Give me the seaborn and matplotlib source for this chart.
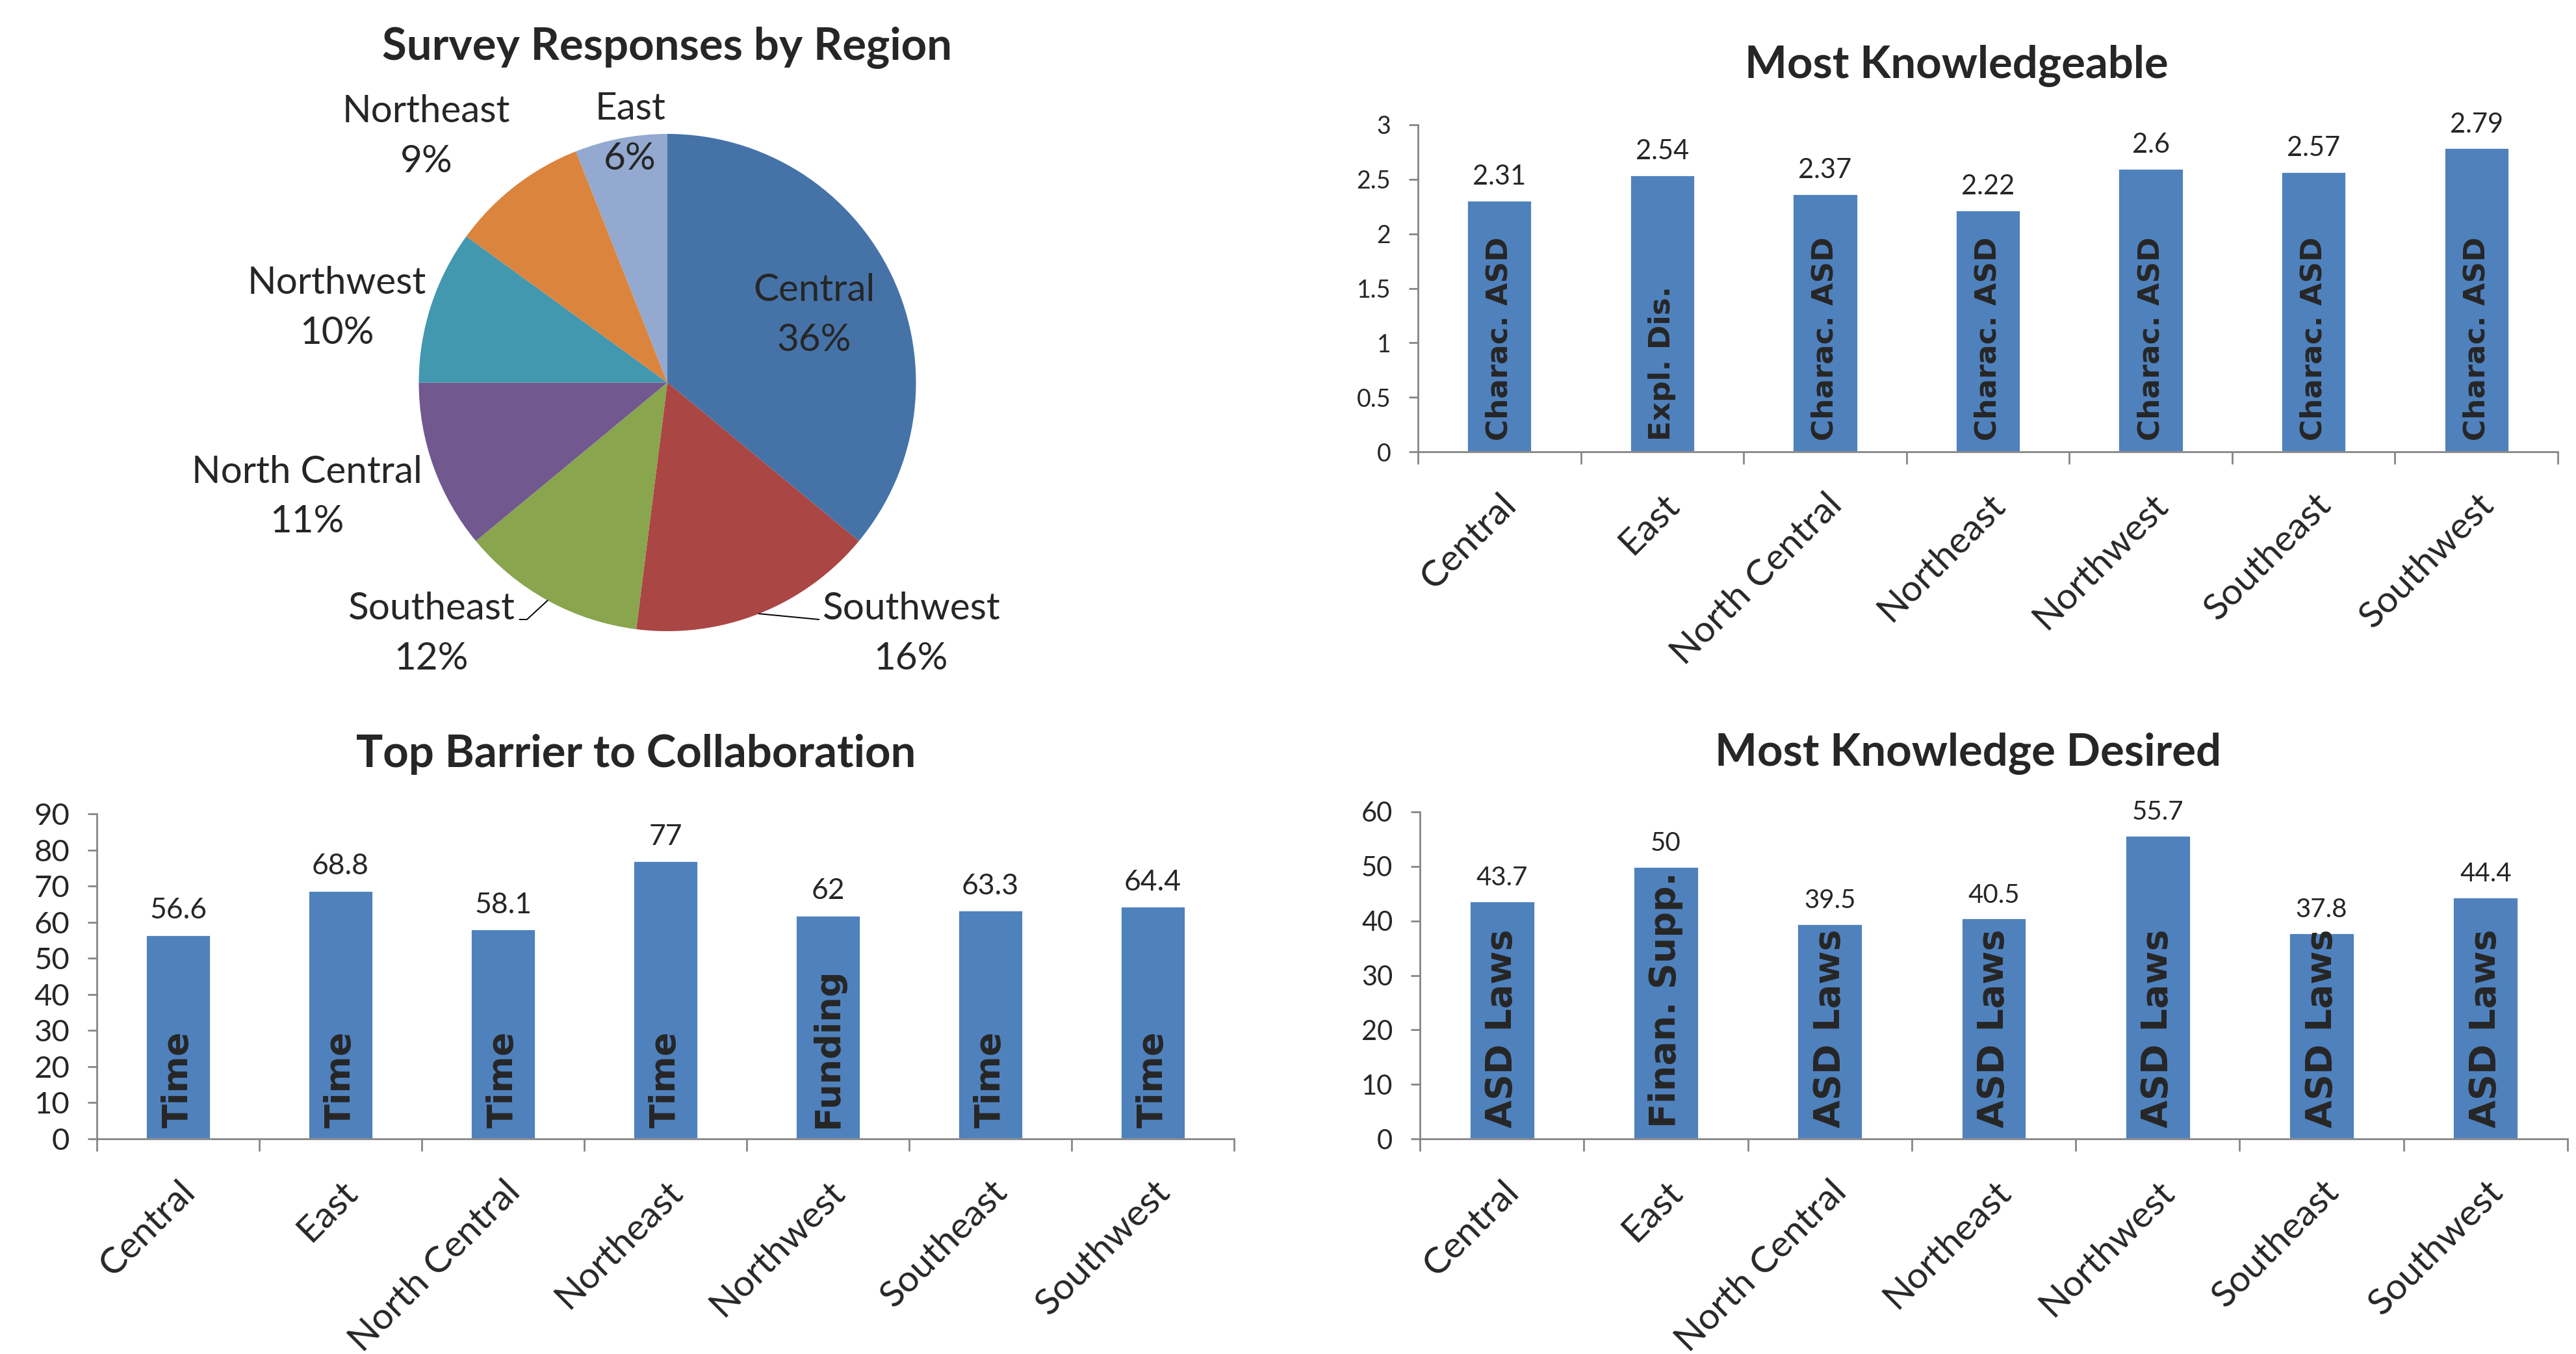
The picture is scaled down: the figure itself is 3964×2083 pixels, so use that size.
import numpy as np
import matplotlib
matplotlib.use("Agg")
import matplotlib.pyplot as plt
from matplotlib.ticker import StrMethodFormatter
from matplotlib.transforms import ScaledTranslation
import seaborn as sns

# ── data ─────────────────────────────────────────────────────────────────────
regions = ["Central", "East", "North Central", "Northeast",
           "Northwest", "Southeast", "Southwest"]

pie_regions = ["Central", "Southwest", "Southeast", "North Central",
               "Northwest", "Northeast", "East"]
pie_share = [36, 16, 12, 11, 10, 9, 6]
pie_colors = ["#4573A8", "#AA4644", "#89A54E", "#71588F",
              "#4198AF", "#DB843D", "#93A9CF"]

knowledgeable = [2.31, 2.54, 2.37, 2.22, 2.6, 2.57, 2.79]
knowledgeable_topic = ["Charac. ASD", "Expl. Dis.", "Charac. ASD", "Charac. ASD",
                       "Charac. ASD", "Charac. ASD", "Charac. ASD"]

barrier = [56.6, 68.8, 58.1, 77, 62, 63.3, 64.4]
barrier_topic = ["Time", "Time", "Time", "Time", "Funding", "Time", "Time"]

desired = [43.7, 50, 39.5, 40.5, 55.7, 37.8, 44.4]
desired_topic = ["ASD Laws", "Finan. Supp.", "ASD Laws", "ASD Laws",
                 "ASD Laws", "ASD Laws", "ASD Laws"]

BAR = "#4F81BD"
AXIS = "#868686"

sns.set_style("ticks")
plt.rcParams["font.family"] = ["Lato", "DejaVu Sans"]

W, H = 3964, 2083
fig = plt.figure(figsize=(W / 200, H / 200), dpi=200)


def px_rect(x0, y0, x1, y1):
    return [x0 / W, 1 - y1 / H, (x1 - x0) / W, (y1 - y0) / H]


def title_at(x, y, text):
    fig.text(x / W, 1 - y / H, text, ha="center", va="center",
             fontsize=24.8, fontweight="bold")


# ── pie: survey responses ────────────────────────────────────────────────────
ax = fig.add_axes(px_rect(415, 72, 1639, 1105))
wedges, _ = ax.pie(pie_share, colors=pie_colors, startangle=90,
                   counterclock=False, radius=1,
                   wedgeprops=dict(linewidth=0))
ax.set_xlim(-1.6, 1.6)
ax.set_ylim(-1.35, 1.35)
ax.set_aspect("equal")
ax.axis("off")

# label layout (in pie-radius units) and optional leader lines
label_pos = {
    "Central": (0.59, 0.27),
    "Southwest": (0.98, -1.01),
    "Southeast": (-0.95, -1.01),
    "North Central": (-1.45, -0.46),
    "Northwest": (-1.33, 0.30),
    "Northeast": (-0.97, 0.99),
    "East": (-0.15, 1.0),
}
leaders = {
    "Southeast": [(-0.565, -0.953), (-0.595, -0.953)],
    "Southwest": [(0.61, -0.953)],
}
for w, name, share in zip(wedges, pie_regions, pie_share):
    x, y = label_pos[name]
    ax.text(x, y, f"{name}\n{share}%", ha="center", va="center",
            fontsize=21, linespacing=1.55)
    if name in leaders:
        mid = np.deg2rad((w.theta1 + w.theta2) / 2)
        pts = [(np.cos(mid), np.sin(mid))] + leaders[name]
        ax.plot([p[0] for p in pts], [p[1] for p in pts],
                color="black", linewidth=0.7)

title_at(1027, 74, "Survey Responses by Region")

# nudge rotated category labels a little to the left
nudge = ScaledTranslation(-12 / 200, 0, fig.dpi_scale_trans)


# ── bar panels ───────────────────────────────────────────────────────────────
def bar_panel(rect, values, topics, ymax, ystep, tick_fs, val_fs, topic_fs):
    ax = fig.add_axes(rect)
    sns.barplot(x=regions, y=values, color=BAR, width=0.4, saturation=1,
                errorbar=None, ax=ax)
    ax.set_xlim(-0.5, 6.5)
    ax.set_ylim(0, ymax)
    ax.set_yticks(np.arange(0, ymax + ystep / 2, ystep))
    ax.yaxis.set_major_formatter(StrMethodFormatter("{x:g}"))
    ax.set_xticks(range(len(regions)))
    ax.set_xticklabels(regions, rotation=45, ha="right", va="top",
                       rotation_mode="anchor", fontsize=20.5)
    for lbl in ax.get_xticklabels():
        lbl.set_transform(lbl.get_transform() + nudge)
    ax.set_xticks(np.arange(-0.5, len(regions), 1), minor=True)
    ax.tick_params(axis="x", which="major", length=0, pad=20)
    ax.tick_params(axis="x", which="minor", length=7, width=1,
                   color=AXIS, direction="out")
    ax.tick_params(axis="y", length=5, width=1, color=AXIS,
                   direction="out", pad=10, labelsize=tick_fs)
    ax.set_xlabel("")
    ax.set_ylabel("")
    sns.despine(ax=ax)
    for s in ("left", "bottom"):
        ax.spines[s].set_color(AXIS)
        ax.spines[s].set_linewidth(1)

    ax.bar_label(ax.containers[0], labels=[f"{v:g}" for v in values],
                 padding=6, fontsize=val_fs)
    for i, t in enumerate(topics):
        ax.annotate(t, xy=(i, 0), xytext=(0, 6), textcoords="offset points",
                    rotation=90, ha="center", va="bottom",
                    fontsize=topic_fs, fontweight="bold",
                    family="DejaVu Sans")
    return ax


bar_panel(px_rect(2182, 192, 3936, 695), knowledgeable, knowledgeable_topic,
          3, 0.5, 13.5, 15, 16.3)
title_at(3011, 101, "Most Knowledgeable")

bar_panel(px_rect(149, 1252, 1899, 1752), barrier, barrier_topic,
          90, 10, 17, 16, 19.5)
title_at(979, 1160, "Top Barrier to Collaboration")

bar_panel(px_rect(2185, 1249, 3951, 1752), desired, desired_topic,
          60, 10, 15, 14.5, 20)
title_at(3029, 1160, "Most Knowledge Desired")

plt.savefig("out.png", dpi=200)
plt.close()
